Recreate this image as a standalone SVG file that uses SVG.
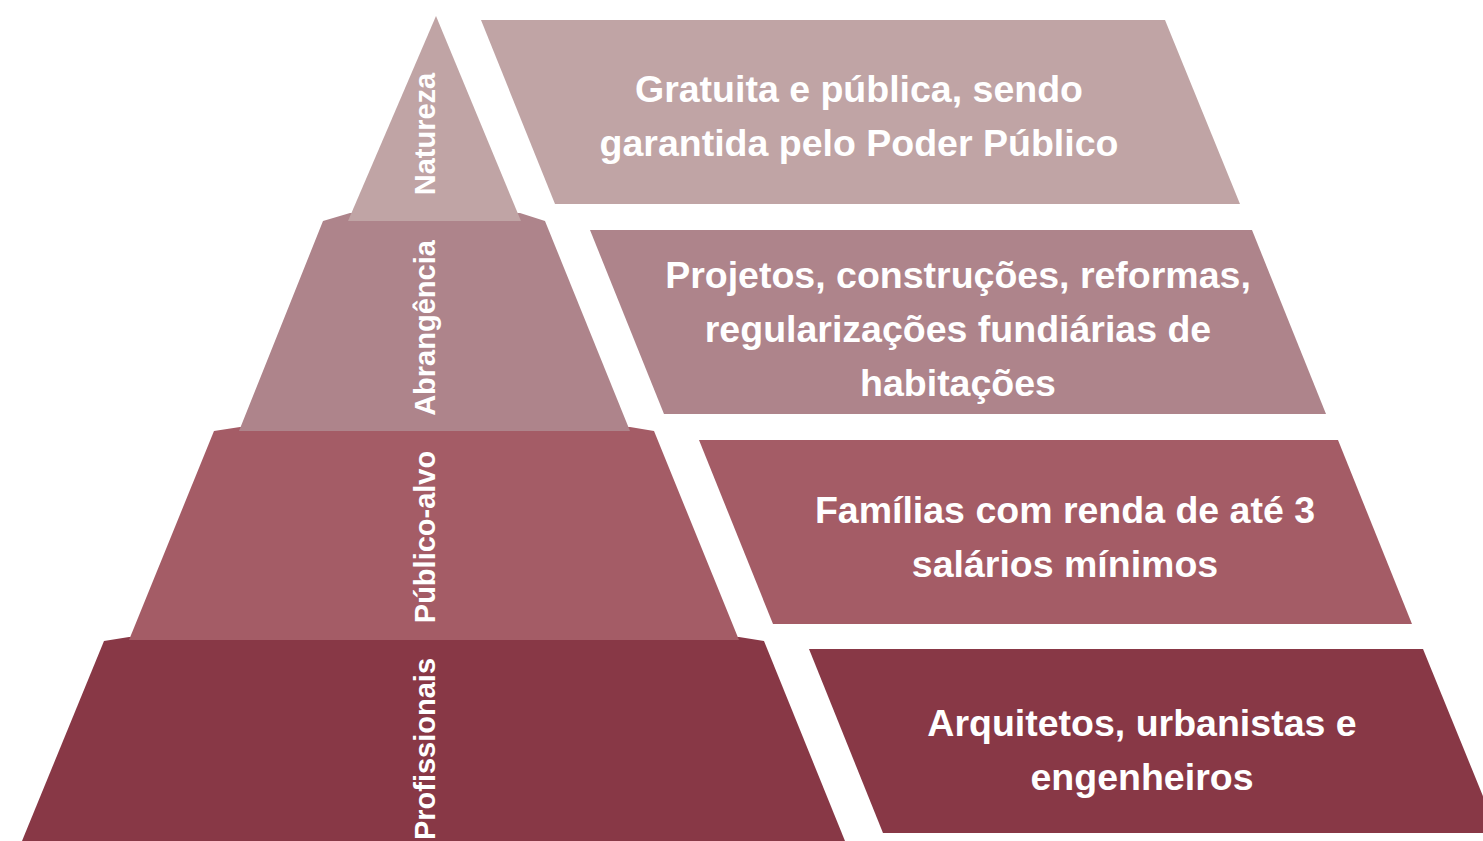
<svg xmlns="http://www.w3.org/2000/svg" width="1483" height="841" viewBox="0 0 1483 841">
<style>
.c1{fill:#C0A4A5}
.c2{fill:#AE848B}
.c3{fill:#A45C66}
.c4{fill:#883846}
.t{fill:#FFFFFF;font-family:"Liberation Sans",Arial,sans-serif;font-weight:bold;font-size:37.5px;text-anchor:middle}
.v{fill:#FFFFFF;font-family:"Liberation Sans",Arial,sans-serif;font-weight:bold;font-size:29px;text-anchor:middle}
</style>
<rect width="1483" height="841" fill="#FFFFFF"/>
<g id="pyramid">
<g id="layer4"><polygon class="c4" points="104,641 129,637 739,637 764,641 845,841 22,841"/><text class="v" transform="translate(435,749) rotate(-90)">Profissionais</text></g>
<g id="layer3"><polygon class="c3" points="214,431 240,427 630,427 654,431 739,640 129,640"/><text class="v" transform="translate(435,537) rotate(-90)">Público-alvo</text></g>
<g id="layer2"><polygon class="c2" points="323,221 350,213 520,213 545,221 630,431 239,431"/><text class="v" transform="translate(435,328) rotate(-90)">Abrangência</text></g>
<g id="layer1"><polygon class="c1" points="436,16 521,221 348,221"/><text class="v" transform="translate(435,134) rotate(-90)">Natureza</text></g>
</g>
<g id="connectors"/>
<g id="box1"><polygon class="c1" points="481,20 1165,20 1240,204 555,204"/><text class="t" x="859" y="102">Gratuita e pública, sendo</text><text class="t" x="859" y="156">garantida pelo Poder Público</text></g>
<g id="box2"><polygon class="c2" points="590,230 1252,230 1326,414 664,414"/><text class="t" x="958" y="288">Projetos, construções, reformas,</text><text class="t" x="958" y="342">regularizações fundiárias de</text><text class="t" x="958" y="396">habitações</text></g>
<g id="box3"><polygon class="c3" points="699,440 1338,440 1412,624 773,624"/><text class="t" x="1065" y="523">Famílias com renda de até 3</text><text class="t" x="1065" y="577">salários mínimos</text></g>
<g id="box4"><polygon class="c4" points="809,649 1423,649 1498,833 883,833"/><text class="t" x="1142" y="736">Arquitetos, urbanistas e</text><text class="t" x="1142" y="790">engenheiros</text></g>
</svg>
